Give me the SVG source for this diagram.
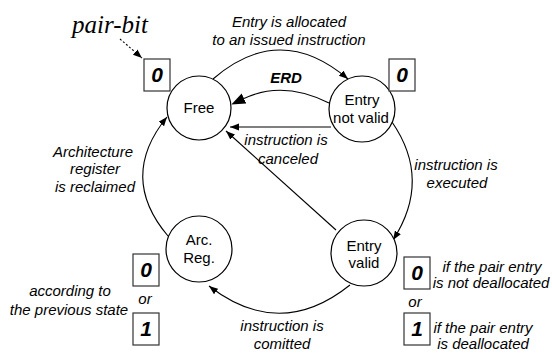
<svg xmlns="http://www.w3.org/2000/svg" width="552" height="353" viewBox="0 0 552 353">
<defs>
<marker id="ah" markerUnits="userSpaceOnUse" markerWidth="10" markerHeight="8" refX="9" refY="3.5" orient="auto"><path d="M0,0 L9,3.5 L0,7 Z" fill="#000"/></marker>
<marker id="ahb" markerUnits="userSpaceOnUse" markerWidth="16" markerHeight="12" refX="0" refY="5.5" orient="auto"><path d="M0,0 L14,5.5 L0,11 Z" fill="#000"/></marker>
</defs>
<style>
.node circle{fill:#fff;stroke:#000;stroke-width:1.2}
.nt{font-family:"Liberation Sans",Arial,sans-serif;font-size:15px;text-anchor:middle;fill:#000}
.lbl{font-family:"Liberation Sans",Arial,sans-serif;font-size:15px;font-style:italic;text-anchor:middle;fill:#000}
.bit rect{fill:#fff;stroke:#333;stroke-width:1.2}
.bit text{font-family:"Liberation Sans",Arial,sans-serif;font-size:21px;font-weight:bold;font-style:italic;text-anchor:middle;fill:#000}
.edge{fill:none;stroke:#000;stroke-width:1.1}
</style>
<rect width="552" height="353" fill="#fff"/>
<g id="connectors">
<path class="edge" d="M213,79 Q280,21 348,79" marker-end="url(#ah)"/>
<path class="edge" d="M392,122 Q432,180 393,240" marker-end="url(#ah)"/>
<path class="edge" d="M350,285 Q280,341 209,286" marker-end="url(#ah)"/>
<path class="edge" d="M168,236 Q118,177 167,117" marker-end="url(#ah)"/>
<path class="edge" d="M331,127 L230,127" marker-end="url(#ah)"/>
<path class="edge" d="M336,230 L226,131" marker-end="url(#ah)"/>
<path class="edge" d="M329,103 Q283,80 244,98.5" stroke-width="3" marker-end="url(#ahb)"/>
<path class="edge" d="M120,39 L142,58" stroke-width="1.5" stroke-dasharray="2,2" marker-end="url(#ah)"/>
</g>
<g id="free" class="node"><circle cx="199" cy="108" r="32"/><text class="nt" x="199" y="113">Free</text></g>
<g id="entry-not-valid" class="node"><circle cx="362" cy="109" r="33"/><text class="nt" x="362" y="105">Entry</text><text class="nt" x="361" y="123">not valid</text></g>
<g id="arc-reg" class="node"><circle cx="199" cy="249" r="33"/><text class="nt" x="199" y="245">Arc.</text><text class="nt" x="199" y="263">Reg.</text></g>
<g id="entry-valid" class="node"><circle cx="364" cy="253" r="33"/><text class="nt" x="364" y="251">Entry</text><text class="nt" x="364" y="268">valid</text></g>
<g id="bit-free" class="bit"><rect x="144" y="59" width="26" height="32"/><text x="157" y="82">0</text></g>
<g id="bit-notvalid" class="bit"><rect x="389" y="59" width="26" height="32"/><text x="402" y="82">0</text></g>
<g id="bit-arc0" class="bit"><rect x="133" y="254" width="26" height="32"/><text x="146" y="277">0</text></g>
<g id="bit-arc1" class="bit"><rect x="133" y="313" width="26" height="32"/><text x="146" y="336">1</text></g>
<g id="bit-valid0" class="bit"><rect x="404" y="257" width="26" height="32"/><text x="417" y="280">0</text></g>
<g id="bit-valid1" class="bit"><rect x="404" y="313" width="26" height="32"/><text x="417" y="336">1</text></g>
<g id="labels">
<text x="110" y="33" font-family="Liberation Serif, serif" font-style="italic" font-size="25" text-anchor="middle">pair-bit</text>
<text class="lbl" x="289" y="27">Entry is allocated</text>
<text class="lbl" x="289" y="45">to an issued instruction</text>
<text x="286" y="83" font-family="Liberation Sans, Arial, sans-serif" font-size="15" font-weight="bold" font-style="italic" text-anchor="middle">ERD</text>
<text class="lbl" x="286" y="145">instruction is</text>
<text class="lbl" x="288" y="164">canceled</text>
<text class="lbl" x="456" y="170">instruction is</text>
<text class="lbl" x="457" y="188">executed</text>
<text class="lbl" x="93" y="157">Architecture</text>
<text class="lbl" x="95" y="174">register</text>
<text class="lbl" x="95" y="192">is reclaimed</text>
<text class="lbl" x="282" y="331">instruction is</text>
<text class="lbl" x="282" y="349">comitted</text>
<text class="lbl" x="70" y="296">according to</text>
<text class="lbl" x="145" y="304">or</text>
<text class="lbl" x="69" y="315">the previous state</text>
<text class="lbl" x="492" y="272">if the pair entry</text>
<text class="lbl" x="491" y="288">is not deallocated</text>
<text class="lbl" x="415" y="307">or</text>
<text class="lbl" x="483" y="333">if the pair entry</text>
<text class="lbl" x="483" y="349">is deallocated</text>
</g>
</svg>
